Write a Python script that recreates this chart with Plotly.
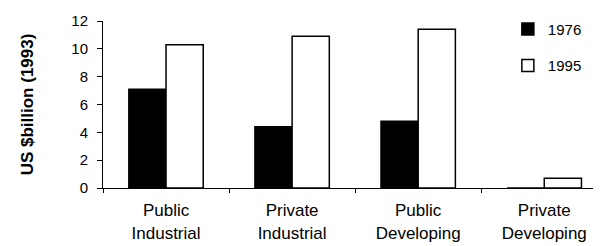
import plotly.graph_objects as go

categories = ["Public<br>Industrial", "Private<br>Industrial", "Public<br>Developing", "Private<br>Developing"]
values_1976 = [7.1, 4.4, 4.8, 0.0]
values_1995 = [10.3, 10.9, 11.4, 0.7]
series_names = ["1976", "1995"]
y_ticks = [0, 2, 4, 6, 8, 10, 12]

fig = go.Figure()
fig.add_trace(go.Bar(x=categories, y=values_1976, name=series_names[0], legendgroup="a",
                     marker=dict(color="black", line=dict(color="black", width=1.5))))
fig.add_trace(go.Bar(x=categories, y=values_1995, name=series_names[1], legendgroup="b",
                     marker=dict(color="white", line=dict(color="black", width=1.5))))

fig.update_layout(
    width=593, height=238,
    margin=dict(l=95, r=0, t=13, b=58),
    plot_bgcolor="white", paper_bgcolor="white",
    barmode="group", bargap=0.41, bargroupgap=0,
    font=dict(family="Liberation Sans, Arial", size=15, color="black"),
    legend=dict(x=0.813, y=1.05, xanchor="left", yanchor="top", bgcolor="rgba(0,0,0,0)",
                traceorder="grouped", tracegroupgap=14, font=dict(size=15),
                itemwidth=30),
    xaxis=dict(showline=True, linecolor="black", linewidth=1, ticks="outside", tickson="boundaries",
               ticklen=4, tickcolor="black", range=[-0.5, 3.45], showgrid=False,
               tickfont=dict(size=17), automargin=False, ticklabelstandoff=7),
    yaxis=dict(showline=True, linecolor="black", linewidth=1, ticks="outside", ticklen=5,
               tickcolor="black", range=[0, 12], tickvals=y_ticks, showgrid=False, zeroline=False,
               tickfont=dict(size=15), automargin=False, ticklabelstandoff=6,
               title=dict(text="<b>US $billion (1993)</b>", font=dict(size=17), standoff=33)),
)
fig.write_html("out.html")
